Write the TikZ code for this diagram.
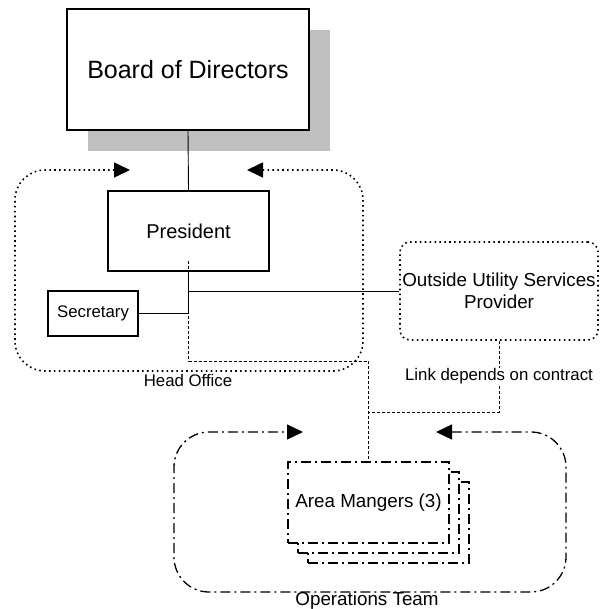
\documentclass[tikz,border=0pt]{standalone}
\usepackage{fontspec}
\setmainfont{Liberation Sans}
\usetikzlibrary{arrows.meta}
\begin{document}
\begin{tikzpicture}[x=1pt,y=-1pt,
  box/.style={draw, line width=1.3pt, fill=white, inner sep=0pt, align=center},
  conn/.style={line width=0.9pt},
  dashline/.style={line width=0.9pt, dash pattern=on 3pt off 2pt},
  dotline/.style={line width=1.6pt, dash pattern=on 1.6pt off 3.3pt},
  dashdot/.style={line width=1.3pt, dash pattern=on 10pt off 4pt on 2pt off 4pt},
  tip/.style={{Triangle[length=16pt 0,width=15pt 0]}-{Triangle[length=16pt 0,width=15pt 0]}},
  big/.style={font=\fontsize{25}{29}\selectfont},
  mid/.style={font=\fontsize{20}{23}\selectfont},
  med/.style={font=\fontsize{18.8}{22}\selectfont},
  small/.style={font=\fontsize{16.8}{19}\selectfont},
]
\useasboundingbox (0,0) rectangle (600,609);

% Board of Directors with drop shadow
\fill[gray!50] (88,30) rectangle (330,151);
\node[box, big, minimum width=242pt, minimum height=121pt] (board) at (188,69.5) {Board of Directors};

% Head office group
\draw[dotline, tip, rounded corners=30pt] (247,170) -- (363,170) -- (363,371) -- (15,371) -- (15,170) -- (130,170);
\node[small] (holabel) at (188,380) {Head Office};

\node[box, mid, minimum width=161pt, minimum height=80pt] (pres) at (188.5,231) {President};
\node[box, small, line width=1.1pt, minimum width=90pt, minimum height=45pt] (sec) at (93,313.5) {Secretary};

% Outside provider
\node[draw, dotline, rounded corners=10pt, med, align=center, minimum width=198pt, minimum height=98pt, inner sep=0pt] (out) at (499,291) {Outside Utility Services\\Provider};

% Operations team group
\draw[dashdot, tip, rounded corners=35pt] (436,432) -- (566,432) -- (566,592) -- (174,592) -- (174,432) -- (303,432);
\node[med] (opslabel) at (367,601) {Operations Team};

% Area managers stack
\node[box, dashdot, minimum width=161pt, minimum height=81pt] (am3) at (388.5,522.5) {};
\node[box, dashdot, minimum width=161pt, minimum height=81pt] (am2) at (378.5,512.5) {};
\node[box, dashdot, med, minimum width=161pt, minimum height=81pt] (am) at (368.5,502.5) {Area Mangers (3)};

% Solid reporting lines
\draw[conn] (board.south) -- (pres.north);
\draw[conn] (pres.south) |- (sec.east);
\draw[conn] (pres.south |- out.west) -- (out.west);

% Dashed links to the operations team
\coordinate (pd) at (188.5,261);
\coordinate (hl) at (0,361);
\coordinate (lk) at (0,412);
\draw[dashline] (pd) -- (pd |- hl) -| (am.north);
\draw[dashline] (out.south) -- node[fill=white, inner sep=1pt, small] (link) {Link depends on contract} (out.south |- lk) -- (am.north |- lk);
\end{tikzpicture}
\end{document}
